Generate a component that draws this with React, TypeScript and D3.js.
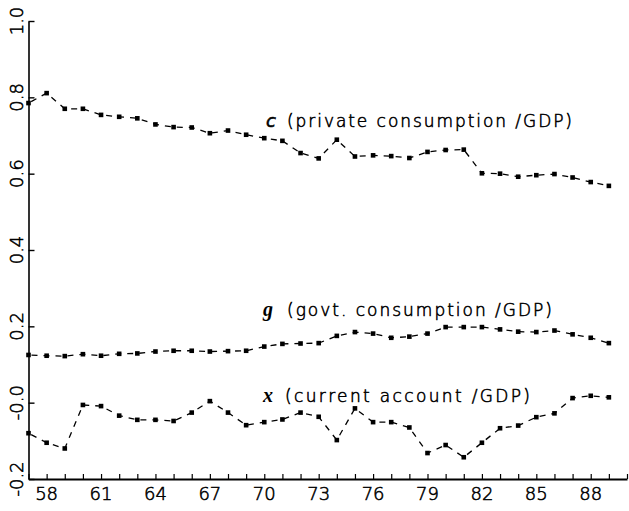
import { useEffect, useRef } from "react";
import * as d3 from "d3";

// years 1957..1989 (two-digit)
const years = [57, 58, 59, 60, 61, 62, 63, 64, 65, 66, 67, 68, 69, 70, 71, 72, 73, 74, 75, 76, 77, 78, 79, 80, 81, 82, 83, 84, 85, 86, 87, 88, 89];

// c: private consumption / GDP
const cValues = [0.785, 0.811, 0.770, 0.770, 0.754, 0.749, 0.745, 0.729, 0.722, 0.721, 0.706, 0.713, 0.702, 0.693, 0.686, 0.654, 0.640, 0.689, 0.645, 0.648, 0.646, 0.641, 0.657, 0.662, 0.663, 0.601, 0.600, 0.592, 0.596, 0.599, 0.590, 0.578, 0.568];
// g: govt. consumption / GDP
const gValues = [0.125, 0.123, 0.122, 0.127, 0.123, 0.128, 0.129, 0.134, 0.136, 0.136, 0.134, 0.135, 0.136, 0.147, 0.154, 0.155, 0.156, 0.175, 0.185, 0.181, 0.170, 0.173, 0.181, 0.198, 0.198, 0.198, 0.192, 0.186, 0.185, 0.189, 0.179, 0.170, 0.156];
// x: current account / GDP
const xValues = [-0.080, -0.105, -0.120, -0.006, -0.009, -0.034, -0.045, -0.045, -0.048, -0.026, 0.004, -0.026, -0.059, -0.051, -0.044, -0.026, -0.037, -0.098, -0.015, -0.051, -0.051, -0.065, -0.132, -0.111, -0.143, -0.105, -0.067, -0.060, -0.038, -0.028, 0.012, 0.018, 0.014];

const xTickYears = [57, 58, 59, 60, 61, 62, 63, 64, 65, 66, 67, 68, 69, 70, 71, 72, 73, 74, 75, 76, 77, 78, 79, 80, 81, 82, 83, 84, 85, 86, 87, 88, 89, 90];
const xTickLabels = ["58", "61", "64", "67", "70", "73", "76", "79", "82", "85", "88"];
const yTickValues = [-0.2, 0.0, 0.2, 0.4, 0.6, 0.8, 1.0];
const yTickLabels = ["-0.2", "-0.0", "0.2", "0.4", "0.6", "0.8", "1.0"];

const seriesNames = ["c", "g", "x"];
const seriesLabels = ["(private consumption /GDP)", "(govt. consumption /GDP)", "(current account /GDP)"];

export default function App() {
  const ref = useRef<SVGSVGElement>(null);

  useEffect(() => {
    if (!ref.current) return;
    const svg = d3.select(ref.current);
    svg.selectAll("*").remove();

    const width = 629;
    const height = 511;
    const font = "'DejaVu Sans', sans-serif";

    const x = d3.scaleLinear().domain([57, 90]).range([28.5, 627]);
    const y = d3.scaleLinear().domain([-0.2, 1.0]).range([479, 21]);

    svg.append("rect").attr("width", width).attr("height", height).attr("fill", "#fff");

    // thin plotter-style lettering
    const thin = (sel: any) => sel
      .attr("font-family", font)
      .attr("font-weight", 200)
      .attr("fill", "#000")
      .attr("stroke", "#000")
      .attr("stroke-width", 0.55);

    // x axis, ticks pointing in
    const gx = svg.append("g")
      .attr("transform", `translate(0,${y(-0.2)})`)
      .call(d3.axisBottom(x).tickValues(xTickYears).tickSizeInner(-5).tickSizeOuter(0).tickFormat(() => ""));
    gx.select(".domain").attr("stroke", "#000").attr("stroke-width", 2.2);
    gx.selectAll(".tick line").attr("stroke", "#000").attr("stroke-width", 1.2);

    svg.append("g")
      .selectAll("text")
      .data(xTickLabels)
      .join("text")
      .attr("x", d => x(+d))
      .attr("y", 500)
      .attr("text-anchor", "middle")
      .attr("font-size", 18)
      .call(thin)
      .text(d => d);

    // y axis
    const gy = svg.append("g")
      .attr("transform", `translate(${x(57)},0)`)
      .call(d3.axisLeft(y).tickValues(yTickValues).tickSizeInner(-6).tickSizeOuter(0).tickFormat(() => ""));
    gy.select(".domain").attr("stroke", "#000").attr("stroke-width", 1.6);
    gy.selectAll(".tick line").attr("stroke", "#000").attr("stroke-width", 1.4);

    svg.append("g")
      .selectAll("text")
      .data(yTickValues)
      .join("text")
      .attr("transform", d => `translate(23,${y(d)}) rotate(-90)`)
      .attr("text-anchor", "middle")
      .attr("font-size", 18)
      .call(thin)
      .text((d, i) => yTickLabels[i]);

    // series
    const line = d3.line<number>()
      .x((d, i) => x(years[i]))
      .y(d => y(d));

    [cValues, gValues, xValues].forEach(vals => {
      svg.append("path")
        .datum(vals)
        .attr("fill", "none")
        .attr("stroke", "#000")
        .attr("stroke-width", 1.3)
        .attr("stroke-dasharray", "6 6")
        .attr("stroke-dashoffset", -3)
        .attr("d", line);

      svg.append("g")
        .selectAll("rect")
        .data(vals)
        .join("rect")
        .attr("x", (d, i) => x(years[i]) - 2.3)
        .attr("y", d => y(d) - 2.3)
        .attr("width", 4.6)
        .attr("height", 4.6)
        .attr("fill", "#000");
    });

    // annotations
    const annX = [266, 263, 263];
    const annY = [127, 316, 402];
    const textX = [287, 287, 285];
    const textEnd = [572, 552, 530];
    seriesNames.forEach((n, i) => {
      const sym = svg.append("text")
        .attr("x", annX[i])
        .attr("y", annY[i])
        .attr("font-style", "italic")
        .text(n);
      if (i === 0) {
        sym.attr("font-size", 18).call(thin);
      } else {
        sym.attr("font-family", "'Liberation Serif', serif")
          .attr("font-weight", "bold")
          .attr("font-size", 20)
          .attr("fill", "#000");
      }
      svg.append("text")
        .attr("x", textX[i])
        .attr("y", annY[i])
        .attr("font-size", 17)
        .attr("textLength", textEnd[i] - textX[i])
        .attr("lengthAdjust", "spacing")
        .call(thin)
        .text(seriesLabels[i]);
    });
  }, []);

  return (
    <svg
      ref={ref}
      width={629}
      height={511}
      style={{ position: "absolute", left: 0, top: 0, display: "block" }}
    />
  );
}
